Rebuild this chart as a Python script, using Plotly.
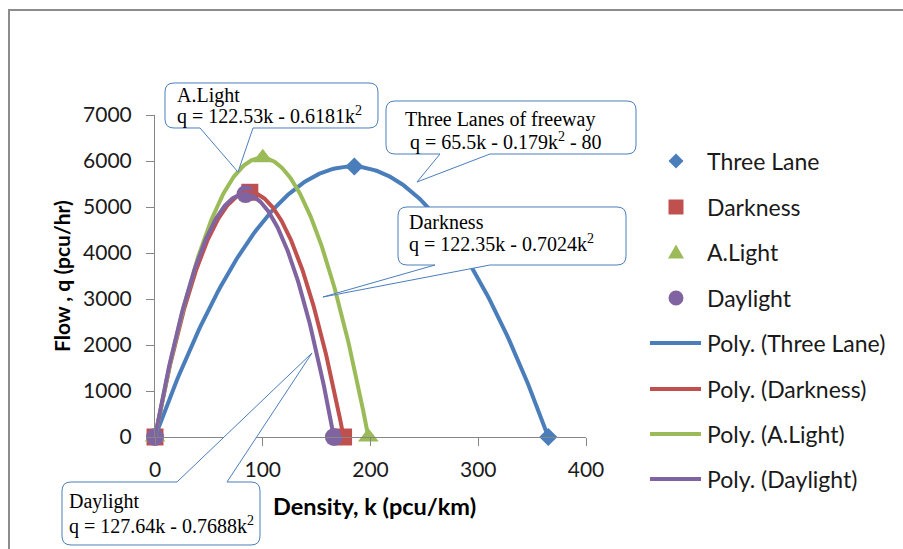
import numpy as np
import plotly.graph_objects as go

# ---------------- data ----------------
three_lane_k = [0, 185, 365]
three_lane_q = [0, 5880, 0]
darkness_k = [0, 88, 175]
darkness_q = [0, 5320, 0]
alight_k = [0, 100, 198]
alight_q = [0, 6070, 0]
daylight_k = [0, 84, 166]
daylight_q = [0, 5280, 0]

series_names = ["Three Lane", "Darkness", "A.Light", "Daylight"]
x_ticks = [0, 100, 200, 300, 400]
y_ticks = [0, 1000, 2000, 3000, 4000, 5000, 6000, 7000]

callout_texts = [
    ["A.Light", "q = 122.53k - 0.6181k<sup>2</sup>"],
    ["Three Lanes of freeway", " q = 65.5k - 0.179k<sup>2</sup> - 80"],
    ["Darkness", "q = 122.35k - 0.7024k<sup>2</sup>"],
    ["Daylight", "q = 127.64k - 0.7688k<sup>2</sup>"],
]

# ---------------- styling ----------------
colors = ["#4A7EBB", "#C0504D", "#9BBB59", "#8064A2"]
symbols = ["diamond", "square", "triangle-up", "circle"]
msizes = [14, 17, 18, 18]
W, H = 903, 549
L, R, T, B = 155, 317, 115, 112
PW, PH = W - L - R, H - T - B
FONT = "Lato"
TXT = "#1a1a1a"


def px(x):
    return (x - L) / PW


def py(y):
    return (H - B - y) / PH


def P(x, y):
    return "%.5f,%.5f" % (px(x), py(y))


fig = go.Figure()
series = [(three_lane_k, three_lane_q), (darkness_k, darkness_q),
          (alight_k, alight_q), (daylight_k, daylight_q)]

for i, (k, q) in enumerate(series):
    fig.add_trace(go.Scatter(
        x=k, y=q, mode="markers", name=series_names[i],
        marker=dict(symbol=symbols[i], size=msizes[i], color=colors[i]),
        cliponaxis=False, showlegend=False))

for i, (k, q) in enumerate(series):
    coef = np.polyfit(k, q, 2)
    kk = np.linspace(min(k), max(k), 200)
    fig.add_trace(go.Scatter(
        x=kk, y=np.polyval(coef, kk), mode="lines",
        name="Poly. (%s)" % series_names[i],
        line=dict(color=colors[i], width=4),
        cliponaxis=False, showlegend=False))

shapes = []
annotations = []

# ---------------- legend (drawn by hand at the right) ----------------
leg_y = [161, 207, 252, 298, 343, 389, 434, 479]
cx = 676


def legend_symbol(sym, cy, color):
    if sym == "diamond":
        path = ("M" + P(cx, cy - 7.5) + " L" + P(cx + 7.5, cy) + " L" + P(cx, cy + 7.5)
                + " L" + P(cx - 7.5, cy) + " Z")
        return dict(type="path", path=path)
    if sym == "square":
        return dict(type="rect", x0=px(cx - 7.5), x1=px(cx + 7.5),
                    y0=py(cy + 7.5), y1=py(cy - 7.5))
    if sym == "triangle-up":
        path = ("M" + P(cx, cy - 7.5) + " L" + P(cx + 8, cy + 6.5) + " L"
                + P(cx - 8, cy + 6.5) + " Z")
        return dict(type="path", path=path)
    return dict(type="circle", x0=px(cx - 7.5), x1=px(cx + 7.5),
                y0=py(cy + 7.5), y1=py(cy - 7.5))


for i in range(4):
    shp = legend_symbol(symbols[i], leg_y[i], colors[i])
    shp.update(xref="paper", yref="paper", fillcolor=colors[i],
               line=dict(width=0, color=colors[i]))
    shapes.append(shp)
    annotations.append(dict(xref="paper", yref="paper", x=px(705), y=py(leg_y[i]),
                            xanchor="left", yanchor="middle", showarrow=False,
                            text=series_names[i],
                            font=dict(family=FONT, size=23, color=TXT)))
for i in range(4):
    yy = leg_y[4 + i]
    shapes.append(dict(type="line", xref="paper", yref="paper",
                       x0=px(650), x1=px(701), y0=py(yy), y1=py(yy),
                       line=dict(color=colors[i], width=4)))
    annotations.append(dict(xref="paper", yref="paper", x=px(705), y=py(yy),
                            xanchor="left", yanchor="middle", showarrow=False,
                            text="Poly. (%s)" % series_names[i],
                            font=dict(family=FONT, size=23, color=TXT)))


# ---------------- callouts ----------------
def callout(x0, y0, x1, y1, b1, b2, tip, edge="bottom", r=9):
    s = "M" + P(x0 + r, y0)
    if edge == "top":
        s += " L" + P(b1, y0) + " L" + P(*tip) + " L" + P(b2, y0)
    s += " L" + P(x1 - r, y0)
    s += " Q" + P(x1, y0) + " " + P(x1, y0 + r)
    s += " L" + P(x1, y1 - r)
    s += " Q" + P(x1, y1) + " " + P(x1 - r, y1)
    if edge == "bottom":
        s += " L" + P(b2, y1) + " L" + P(*tip) + " L" + P(b1, y1)
    s += " L" + P(x0 + r, y1)
    s += " Q" + P(x0, y1) + " " + P(x0, y1 - r)
    s += " L" + P(x0, y0 + r)
    s += " Q" + P(x0, y0) + " " + P(x0 + r, y0) + " Z"
    return s


boxes = [
    dict(x0=165, y0=83, x1=378, y1=128, b1=200, b2=253, tip=(238, 172), edge="bottom",
         tx=175, ty=[95, 116]),
    dict(x0=386, y0=101, x1=636, y1=154, b1=440, b2=490, tip=(417, 182), edge="bottom",
         tx=403, ty=[119, 141]),
    dict(x0=398, y0=207, x1=626, y1=265, b1=435, b2=490, tip=(323, 297), edge="bottom",
         tx=407, ty=[222, 243]),
    dict(x0=62, y0=482, x1=260, y1=545, b1=177, b2=227, tip=(312, 353), edge="top",
         tx=67, ty=[502, 525]),
]

# outer chart frame
shapes.append(dict(type="rect", xref="paper", yref="paper",
                   x0=px(9), y0=py(10), x1=px(915), y1=py(560),
                   line=dict(color="#8C8C8C", width=2), fillcolor="rgba(0,0,0,0)",
                   layer="below"))
for bx, txt in zip(boxes, callout_texts):
    shapes.append(dict(type="path", xref="paper", yref="paper",
                       path=callout(bx["x0"], bx["y0"], bx["x1"], bx["y1"],
                                    bx["b1"], bx["b2"], bx["tip"], bx["edge"]),
                       line=dict(color="#4A7EBB", width=1), fillcolor="white",
                       layer="above"))
    for line_txt, ty in zip(txt, bx["ty"]):
        annotations.append(dict(xref="paper", yref="paper", x=px(bx["tx"]), y=py(ty),
                                xanchor="left", yanchor="middle", showarrow=False,
                                text=line_txt,
                                font=dict(family="Liberation Serif", size=20, color="#000")))

# axis titles
annotations.append(dict(xref="paper", yref="paper", x=px(374), y=py(506),
                        xanchor="center", yanchor="middle", showarrow=False,
                        text="<b>Density, k (pcu/km)</b>",
                        font=dict(family=FONT, size=23.5, color="#000")))
annotations.append(dict(xref="paper", yref="paper", x=px(61), y=py(276),
                        xanchor="center", yanchor="middle", showarrow=False,
                        textangle=-90, text="<b>Flow , q (pcu/hr)</b>",
                        font=dict(family=FONT, size=21, color="#000")))

axis_common = dict(showline=True, linecolor="#868686", linewidth=1,
                   ticks="outside", ticklen=8, tickcolor="#868686",
                   showgrid=False, zeroline=False, automargin=False,
                   tickfont=dict(family=FONT, size=21, color=TXT))

fig.update_layout(
    width=W, height=H, autosize=False,
    margin=dict(l=L, r=R, t=T, b=B, pad=0),
    paper_bgcolor="white", plot_bgcolor="rgba(0,0,0,0)",
    xaxis=dict(range=[0, 400], tickvals=x_ticks, ticklabelstandoff=6, **axis_common),
    yaxis=dict(range=[0, 7000], tickvals=y_ticks, ticklabelstandoff=10, **axis_common),
    shapes=shapes, annotations=annotations,
    showlegend=False,
)

fig.write_html("out.html")
